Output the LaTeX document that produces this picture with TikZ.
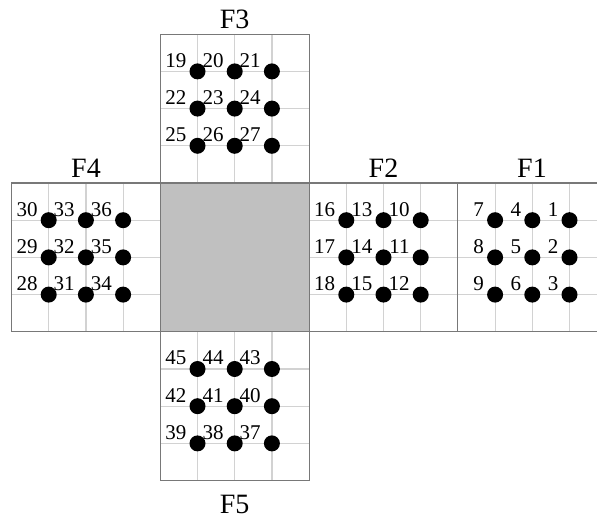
\documentclass[tikz,border=0pt]{standalone}
\usepackage{fontspec}
\setmainfont{Liberation Serif}
\definecolor{gridc}{HTML}{D2D2D2}
\definecolor{framec}{HTML}{787878}
\definecolor{fillc}{HTML}{C0C0C0}
\newcommand\facegrid[2]{%
  \foreach \k in {1,2,3}{%
    \draw[gridline] (#1+\k*37.2,#2) -- ++(0,148.8);
    \draw[gridline] (#1,#2+\k*37.2) -- ++(148.8,0);
  }%
}
\newcommand\facedots[3]{%
  \foreach \n [count=\i from 0] in {#3}{%
    \pgfmathtruncatemacro\cc{mod(\i,3)+1}%
    \pgfmathtruncatemacro\rr{div(\i,3)+1}%
    \node[dot] (d\n) at (#1+\cc*37.2,#2+\rr*37.2) {};
    \node[num] (l\n) at ([xshift=-11pt,yshift=4pt]d\n.center) {\n};
  }%
}
\begin{document}
\begin{tikzpicture}[x=1pt,y=-1pt,
  gridline/.style={draw=gridc,line width=1.2pt},
  frame/.style={draw=framec,line width=1.1pt},
  dot/.style={circle,fill=black,inner sep=0pt,minimum size=16pt},
  num/.style={anchor=base east,inner sep=0pt,font=\fontsize{21}{21}\selectfont},
  face/.style={font=\fontsize{28}{28}\selectfont,inner sep=0pt,anchor=base}]
\useasboundingbox (0,0) rectangle (597,518);
\clip (0,0) rectangle (597,518);
% grids
\facegrid{160.3}{34.2}
\facegrid{11.5}{183}
\facegrid{309.1}{183}
\facegrid{457.9}{183}
\facegrid{160.3}{331.8}
% centre
\fill[fillc] (160.3,183) rectangle (309.1,331.8);
% frames
\draw[frame] (160.3,34.2) rectangle (309.1,183);
\draw[frame] (11.5,183) rectangle (160.3,331.8);
\draw[frame] (160.3,183) rectangle (309.1,331.8);
\draw[frame] (309.1,183) rectangle (457.9,331.8);
\draw[frame] (457.9,183) rectangle (606.7,331.8);
\draw[frame] (160.3,331.8) rectangle (309.1,480.6);
% dots and numbers
\facedots{160.3}{34.2}{19,20,21,22,23,24,25,26,27}
\facedots{11.5}{183}{30,33,36,29,32,35,28,31,34}
\facedots{309.1}{183}{16,13,10,17,14,11,18,15,12}
\facedots{457.9}{183}{7,4,1,8,5,2,9,6,3}
\facedots{160.3}{331.8}{45,44,43,42,41,40,39,38,37}
% face labels
\node[face] (F3) at (234.7,29) {F3};
\node[face] (F4) at (86,178) {F4};
\node[face] (F2) at (383.5,178) {F2};
\node[face] (F1) at (532,178) {F1};
\node[face] (F5) at (234.7,513) {F5};
\end{tikzpicture}
\end{document}
